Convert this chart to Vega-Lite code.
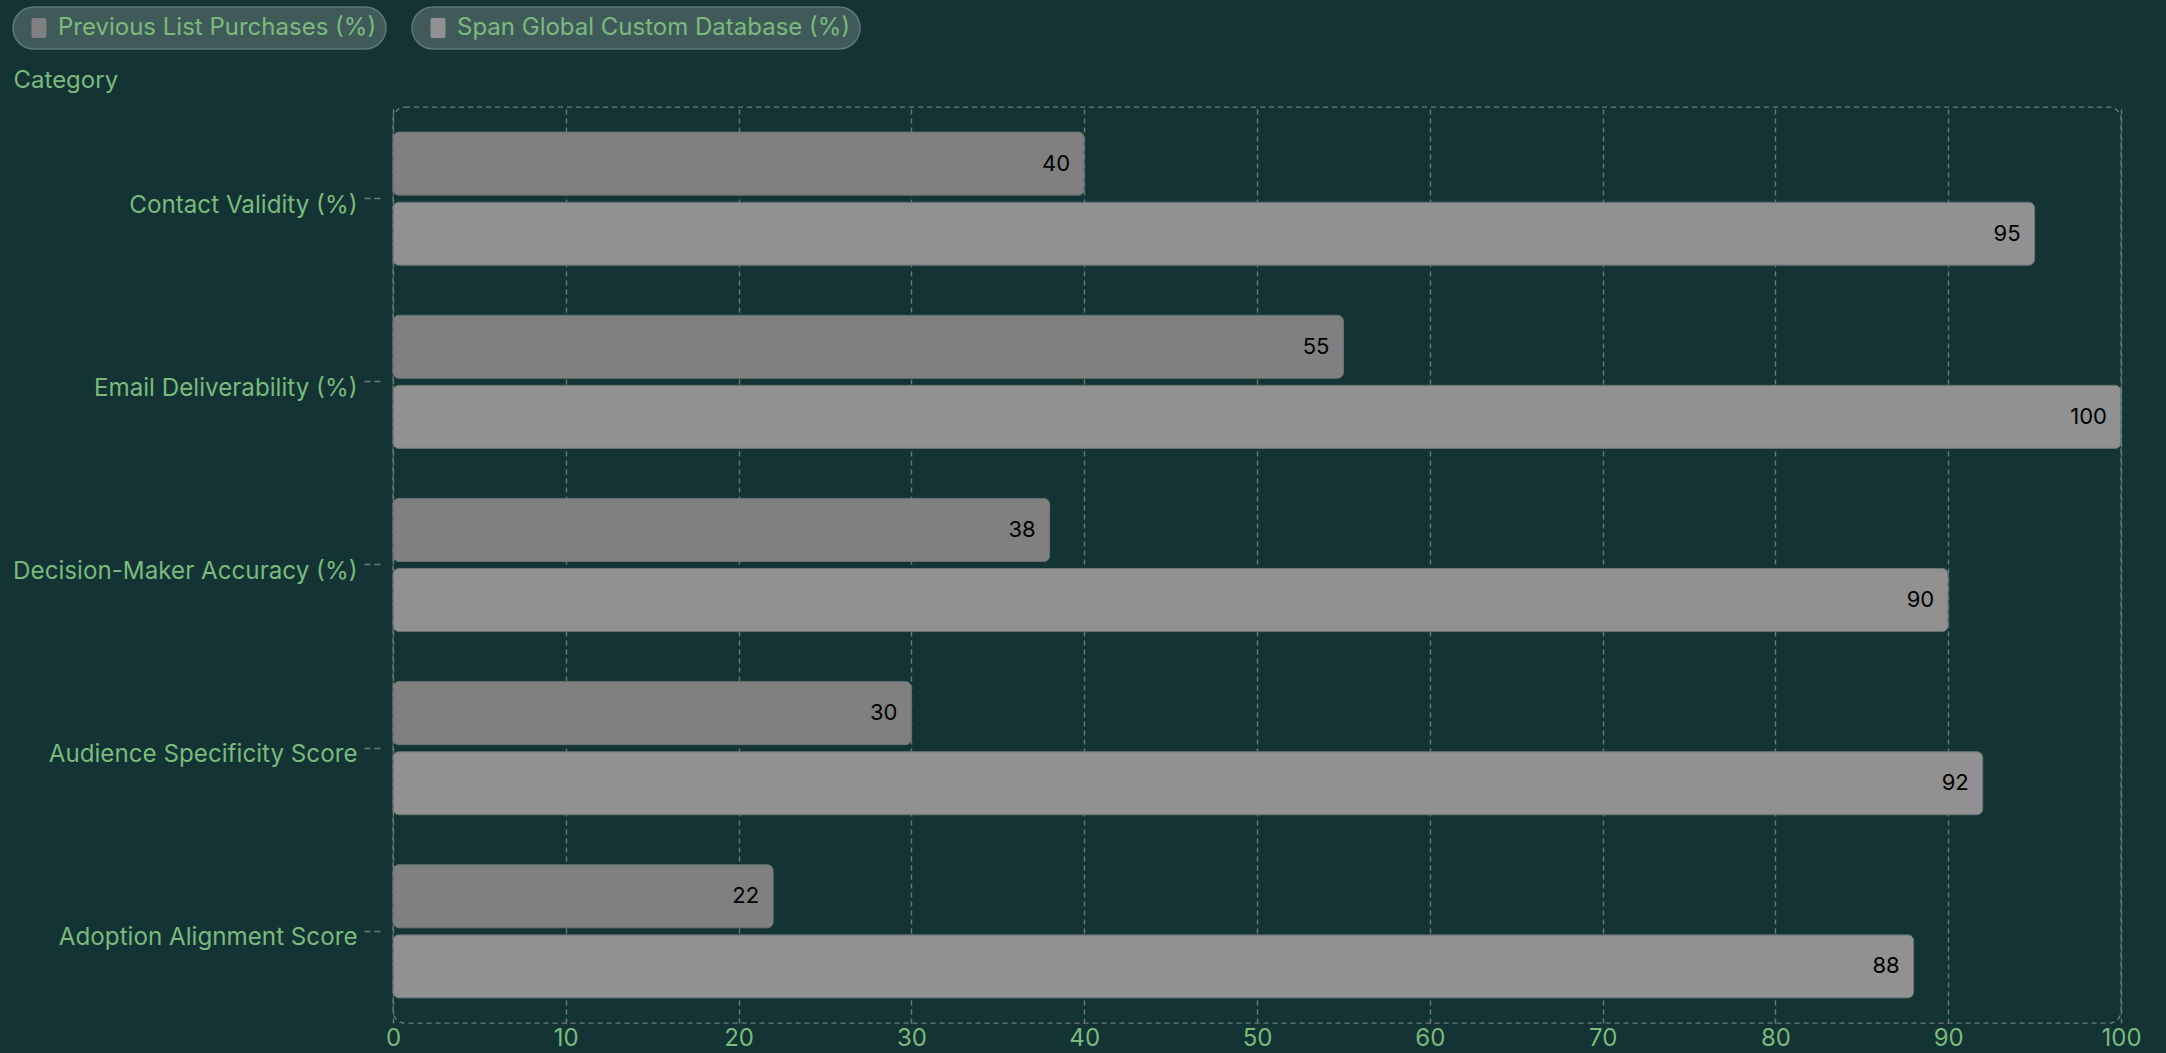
{
  "$schema": "https://vega.github.io/schema/vega-lite/v6.json",
  "width": 1728,
  "height": 916,
  "autosize": {"type": "none"},
  "padding": {"left": 393, "top": 107, "right": 45, "bottom": 30},
  "background": "#133334",
  "config": {
    "font": "Inter",
    "view": {"stroke": "#6e7a7a", "strokeDash": [5, 4], "strokeWidth": 1.4, "cornerRadius": 12},
    "legend": {
      "orient": "none",
      "fillColor": "#405a5a",
      "strokeColor": "#5f7777",
      "strokeWidth": 1.5,
      "cornerRadius": 21,
      "padding": 9,
      "labelColor": "#7bba7c",
      "labelFont": "Inter",
      "labelFontSize": 24,
      "labelLimit": 600,
      "symbolOffset": 5,
      "symbolStrokeWidth": 0,
      "labelOffset": 7,
      "title": null,
      "symbolType": "M-0.55,-1 H0.55 A0.2,0.2 0 0 1 0.75,-0.8 V0.8 A0.2,0.2 0 0 1 0.55,1 H-0.55 A0.2,0.2 0 0 1 -0.75,0.8 V-0.8 A0.2,0.2 0 0 1 -0.55,-1 Z",
      "symbolSize": 400
    }
  },
  "data": {
    "values": [
      {"category": "Contact Validity (%)", "series": "Previous List Purchases (%)", "value": 40},
      {"category": "Contact Validity (%)", "series": "Span Global Custom Database (%)", "value": 95},
      {"category": "Email Deliverability (%)", "series": "Previous List Purchases (%)", "value": 55},
      {"category": "Email Deliverability (%)", "series": "Span Global Custom Database (%)", "value": 100},
      {"category": "Decision-Maker Accuracy (%)", "series": "Previous List Purchases (%)", "value": 38},
      {"category": "Decision-Maker Accuracy (%)", "series": "Span Global Custom Database (%)", "value": 90},
      {"category": "Audience Specificity Score", "series": "Previous List Purchases (%)", "value": 30},
      {"category": "Audience Specificity Score", "series": "Span Global Custom Database (%)", "value": 92},
      {"category": "Adoption Alignment Score", "series": "Previous List Purchases (%)", "value": 22},
      {"category": "Adoption Alignment Score", "series": "Span Global Custom Database (%)", "value": 88}
    ]
  },
  "encoding": {
    "y": {
      "field": "category",
      "type": "nominal",
      "sort": null,
      "scale": {"paddingInner": 0.273, "paddingOuter": 0.137},
      "axis": {
        "title": "Category",
        "titleAngle": 0,
        "titleAlign": "left",
        "titleBaseline": "middle",
        "titleX": -367,
        "titleY": -27,
        "titleColor": "#7bba7c",
        "titleFont": "Inter",
        "titleFontSize": 24,
        "titleFontWeight": "normal",
        "domain": false,
        "offset": 13,
        "tickSize": 16,
        "tickDash": [6, 4],
        "tickColor": "#6e7a7a",
        "tickWidth": 1.4,
        "labelPadding": 7,
        "labelOffset": 7,
        "labelColor": "#7bba7c",
        "labelFont": "Inter",
        "labelFontSize": 24.2,
        "labelLimit": 500,
        "grid": false
      }
    },
    "yOffset": {
      "field": "series",
      "type": "nominal",
      "scale": {"domain": ["Previous List Purchases (%)", "Span Global Custom Database (%)"], "paddingInner": 0.1}
    },
    "x": {
      "field": "value",
      "type": "quantitative",
      "scale": {"domain": [0, 100], "nice": false},
      "axis": {
        "title": null,
        "values": [0, 10, 20, 30, 40, 50, 60, 70, 80, 90, 100],
        "domain": false,
        "ticks": false,
        "labelFlush": false,
        "labelPadding": 3,
        "labelColor": "#7bba7c",
        "labelFont": "Inter",
        "labelFontSize": 24,
        "grid": true,
        "gridColor": "#6e7a7a",
        "gridDash": [5, 4],
        "gridWidth": 1.4
      }
    }
  },
  "layer": [
    {
      "transform": [{"filter": "datum.series === 'Previous List Purchases (%)'"}],
      "mark": {"type": "bar", "cornerRadius": 6, "stroke": "#6a7676", "strokeWidth": 1},
      "encoding": {
        "color": {
          "field": "series",
          "type": "nominal",
          "scale": {"domain": ["Previous List Purchases (%)"], "range": ["#808080"]},
          "legend": {"legendX": -380, "legendY": -100, "labelExpr": "datum.label + '\u00a0'"}
        }
      }
    },
    {
      "transform": [{"filter": "datum.series === 'Span Global Custom Database (%)'"}],
      "mark": {"type": "bar", "cornerRadius": 6, "stroke": "#6a7676", "strokeWidth": 1},
      "encoding": {
        "color": {
          "field": "series",
          "type": "nominal",
          "scale": {"domain": ["Span Global Custom Database (%)"], "range": ["#919191"]},
          "legend": {"legendX": 19, "legendY": -100, "labelExpr": "datum.label + '\u00a0'"}
        }
      }
    },
    {
      "mark": {"type": "text", "align": "right", "baseline": "middle", "dx": -14, "color": "#000000", "font": "Inter", "fontSize": 22},
      "encoding": {"text": {"field": "value", "type": "quantitative"}}
    }
  ],
  "resolve": {"scale": {"color": "independent"}}
}
